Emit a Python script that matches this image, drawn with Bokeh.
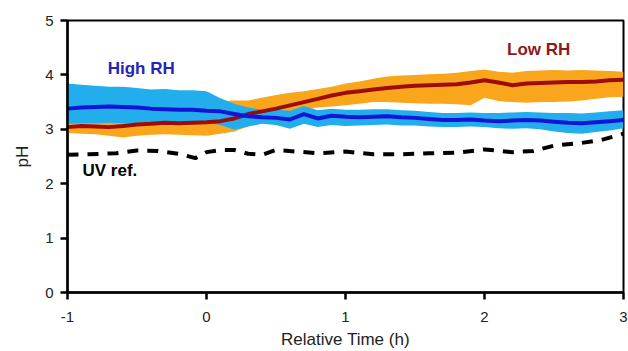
from bokeh.plotting import figure
from bokeh.models import Range1d, FixedTicker, Label, ColumnDataSource
from bokeh.embed import file_html
from bokeh.resources import INLINE

# ---- data ----
time_h = [-1.0, -0.9, -0.8, -0.7, -0.6, -0.5, -0.4, -0.3, -0.2, -0.1,
          0.0, 0.1, 0.2, 0.3, 0.4, 0.5, 0.6, 0.7, 0.8, 0.9,
          1.0, 1.1, 1.2, 1.3, 1.4, 1.5, 1.6, 1.7, 1.8, 1.9,
          2.0, 2.1, 2.2, 2.3, 2.4, 2.5, 2.6, 2.7, 2.8, 2.9, 3.0]

high_rh = [3.38, 3.40, 3.41, 3.42, 3.41, 3.40, 3.38, 3.37, 3.36, 3.36,
           3.34, 3.33, 3.28, 3.24, 3.22, 3.21, 3.18, 3.28, 3.20, 3.25,
           3.23, 3.22, 3.23, 3.24, 3.22, 3.21, 3.19, 3.17, 3.17, 3.18,
           3.16, 3.15, 3.16, 3.17, 3.16, 3.14, 3.12, 3.11, 3.13, 3.15, 3.17]
high_rh_upper = [3.84, 3.82, 3.80, 3.78, 3.78, 3.76, 3.73, 3.74, 3.72, 3.72,
                 3.70, 3.57, 3.47, 3.40, 3.36, 3.36, 3.34, 3.43, 3.35, 3.38,
                 3.36, 3.36, 3.37, 3.37, 3.35, 3.34, 3.32, 3.30, 3.30, 3.31,
                 3.30, 3.30, 3.31, 3.32, 3.31, 3.30, 3.30, 3.29, 3.31, 3.33, 3.35]
high_rh_lower = [3.10, 3.11, 3.11, 3.12, 3.11, 3.12, 3.13, 3.14, 3.13, 3.13,
                 3.12, 3.08, 2.99, 3.05, 3.10, 3.08, 3.01, 3.10, 3.04, 3.08,
                 3.06, 3.07, 3.08, 3.09, 3.07, 3.07, 3.05, 3.04, 3.04, 3.05,
                 3.04, 3.02, 3.01, 3.02, 3.00, 2.96, 2.93, 2.92, 2.95, 2.98, 3.02]

low_rh = [3.04, 3.06, 3.05, 3.04, 3.06, 3.09, 3.10, 3.12, 3.11, 3.12,
          3.13, 3.15, 3.20, 3.28, 3.33, 3.38, 3.44, 3.50, 3.56, 3.62,
          3.67, 3.70, 3.73, 3.76, 3.78, 3.80, 3.81, 3.82, 3.83, 3.86,
          3.90, 3.86, 3.81, 3.84, 3.85, 3.86, 3.87, 3.87, 3.88, 3.90, 3.91]
low_rh_upper = [3.16, 3.17, 3.16, 3.16, 3.18, 3.20, 3.22, 3.23, 3.24, 3.30,
                3.40, 3.52, 3.53, 3.53, 3.58, 3.63, 3.67, 3.70, 3.74, 3.78,
                3.84, 3.88, 3.93, 3.97, 3.99, 4.00, 4.01, 4.02, 4.04, 4.07,
                4.10, 4.06, 4.04, 4.07, 4.08, 4.09, 4.08, 4.09, 4.08, 4.07, 4.06]
low_rh_lower = [2.93, 2.92, 2.91, 2.88, 2.85, 2.88, 2.90, 2.91, 2.90, 2.89,
                2.88, 2.92, 2.96, 3.05, 3.18, 3.28, 3.33, 3.36, 3.40, 3.42,
                3.44, 3.47, 3.50, 3.50, 3.49, 3.48, 3.47, 3.47, 3.46, 3.44,
                3.58, 3.52, 3.50, 3.49, 3.50, 3.50, 3.51, 3.53, 3.56, 3.59, 3.60]

uv_time = [-1.0, -0.85, -0.65, -0.5, -0.35, -0.2, -0.08, 0.0, 0.1, 0.2, 0.3, 0.4, 0.5,
           0.65, 0.8, 1.0, 1.2, 1.4, 1.6, 1.8, 2.0, 2.2, 2.35, 2.5, 2.7, 2.85, 3.0]
uv_ref = [2.53, 2.54, 2.56, 2.61, 2.60, 2.55, 2.47, 2.58, 2.62, 2.62, 2.55, 2.53, 2.62,
          2.59, 2.56, 2.59, 2.54, 2.54, 2.56, 2.57, 2.63, 2.58, 2.60, 2.70, 2.75, 2.81, 2.92]

x_ticks = [-1, 0, 1, 2, 3]
x_tick_labels = ["-1", "0", "1", "2", "3"]
y_ticks = [0, 1, 2, 3, 4, 5]

# ---- figure ----
FONT = "Liberation Sans"
p = figure(width=628, height=351, output_backend="svg", toolbar_location=None,
           x_range=Range1d(-1, 3), y_range=Range1d(0, 5),
           min_border_left=67, min_border_right=5, min_border_top=20, min_border_bottom=58)
p.background_fill_color = "white"
p.border_fill_color = "white"
p.outline_line_color = "black"
p.outline_line_width = 2
p.grid.visible = False

src = ColumnDataSource(dict(t=time_h, hi=high_rh, hi_u=high_rh_upper, hi_l=high_rh_lower,
                            lo=low_rh, lo_u=low_rh_upper, lo_l=low_rh_lower))

p.varea(x="t", y1="lo_l", y2="lo_u", source=src, fill_color="#F9A61C", fill_alpha=1)
p.varea(x="t", y1="hi_l", y2="hi_u", source=src, fill_color="#22ADEC", fill_alpha=1)
p.line(x="t", y="lo", source=src, line_color="#9E0B0B", line_width=4)
p.line(x="t", y="hi", source=src, line_color="#1414D6", line_width=4)
p.line(uv_time, uv_ref, line_color="black", line_width=4, line_dash="11 9")

for ax in (p.xaxis[0], p.yaxis[0]):
    ax.axis_line_width = 2.5
    ax.axis_line_color = "black"
    ax.major_tick_line_width = 2.5
    ax.major_tick_line_color = "black"
    ax.major_tick_out = 7
    ax.major_tick_in = 0
    ax.minor_tick_line_color = None
    ax.major_label_text_font = FONT
    ax.major_label_text_font_size = "15px"
    ax.major_label_text_color = "#222222"
    ax.axis_label_text_font = FONT
    ax.axis_label_text_font_size = "17px"
    ax.axis_label_text_font_style = "normal"
    ax.axis_label_text_color = "#222222"

p.xaxis.ticker = FixedTicker(ticks=x_ticks)
p.xaxis.major_label_overrides = {t: lab for t, lab in zip(x_ticks, x_tick_labels)}
p.yaxis.ticker = FixedTicker(ticks=y_ticks)
p.xaxis.axis_label = "Relative Time (h)"
p.yaxis.axis_label = "pH"
p.xaxis.major_label_standoff = 12
p.xaxis.axis_label_standoff = 5
p.yaxis.major_label_standoff = 7
p.yaxis.axis_label_standoff = 10

p.add_layout(Label(x=-0.47, y=3.95, text="High RH", text_align="center",
                   text_font=FONT, text_font_size="17px", text_font_style="bold",
                   text_color="#2424B8"))
p.add_layout(Label(x=2.39, y=4.29, text="Low RH", text_align="center",
                   text_font=FONT, text_font_size="17px", text_font_style="bold",
                   text_color="#8C1A1A"))
p.add_layout(Label(x=-0.892, y=2.07, text="UV ref.", text_align="left",
                   text_font=FONT, text_font_size="17px", text_font_style="bold",
                   text_color="black"))

open("out.html", "w").write(file_html(p, INLINE))
